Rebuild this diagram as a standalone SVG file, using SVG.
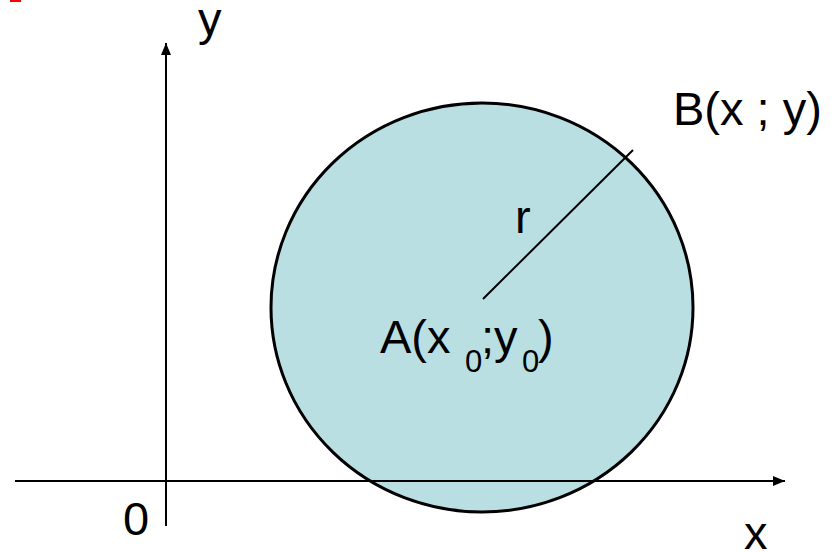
<svg xmlns="http://www.w3.org/2000/svg" width="837" height="552" viewBox="0 0 837 552">
<style>
text{font-family:"Liberation Sans",Arial,sans-serif;font-size:47px;fill:#000}
.sub{font-size:31px}
.ax{stroke:#000;stroke-width:2;fill:none}
</style>
<defs>
<marker id="arr" markerWidth="12" markerHeight="10" refX="12" refY="5" orient="auto" markerUnits="userSpaceOnUse">
<path d="M0,0 L12,5 L0,10 Z" fill="#000"/>
</marker>
</defs>
<rect width="837" height="552" fill="#fff"/>
<rect x="10" y="0" width="11" height="2" fill="#f00"/>
<g id="circle">
<ellipse cx="482" cy="307.5" rx="211" ry="204.5" fill="#B9DFE3" stroke="#000" stroke-width="3"/>
</g>
<g id="connectors">
<line class="ax" x1="15" y1="481" x2="785" y2="481" marker-end="url(#arr)"/>
<line class="ax" x1="166" y1="526" x2="166" y2="43" marker-end="url(#arr)"/>
<line class="ax" x1="483" y1="299" x2="633" y2="150"/>
</g>
<g id="labels">
<text x="198" y="35">y</text>
<text x="744" y="549">x</text>
<text x="123" y="535">0</text>
<text x="673" y="125">B(x ; y)</text>
<text x="515" y="233">r</text>
<text x="380" y="353">A(x <tspan class="sub" x="465" y="372">0</tspan><tspan x="481" y="353">;y</tspan><tspan class="sub" x="522" y="372">0</tspan><tspan x="538" y="353">)</tspan></text>
</g>
</svg>
